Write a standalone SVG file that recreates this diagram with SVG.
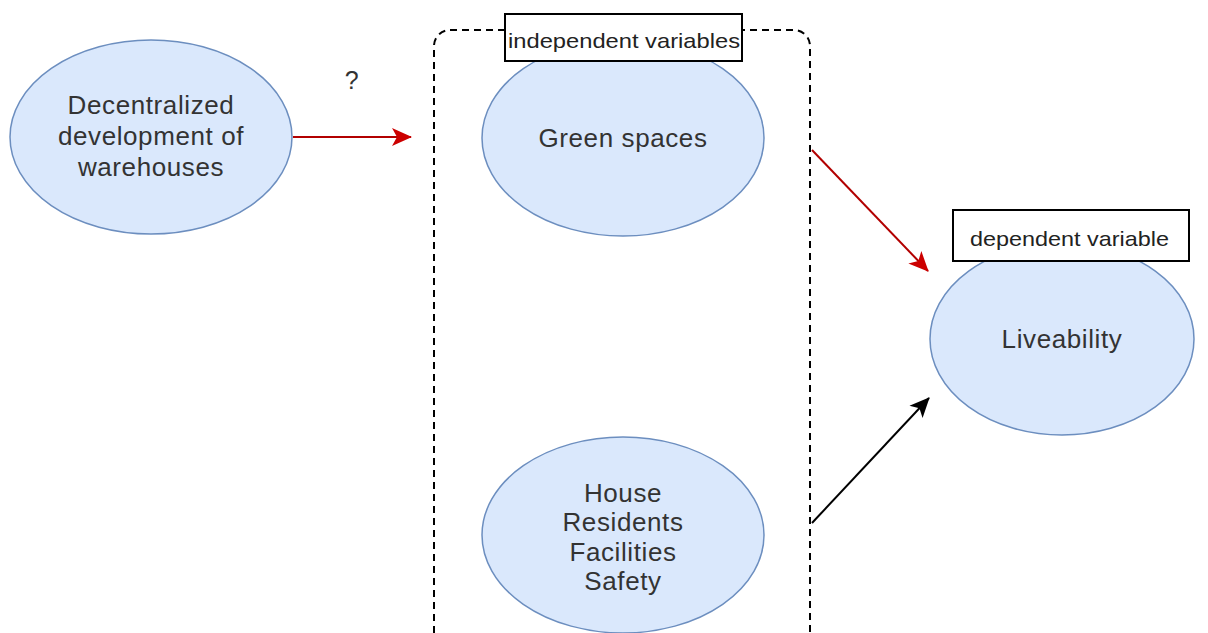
<svg xmlns="http://www.w3.org/2000/svg" width="1208" height="633" viewBox="0 0 1208 633">
<style>
.node ellipse{fill:#dae8fc;stroke:#6c8ebf;stroke-width:1.5}
.t{font-family:"Liberation Sans",Arial,sans-serif;font-size:26px;fill:#333;text-anchor:middle;letter-spacing:0.6px}
.lbl rect{fill:#fff;stroke:#000;stroke-width:2}
.lt{font-family:"Liberation Sans",Arial,sans-serif;font-size:21px;fill:#222}
.red{stroke:#b20000;stroke-width:2;fill:none}
.blk{stroke:#000;stroke-width:2;fill:none}
</style>
<defs>
<marker id="ar" viewBox="0 0 20 20" refX="19" refY="10" markerWidth="20" markerHeight="20" markerUnits="userSpaceOnUse" orient="auto">
<path d="M0,1 L20,10 L0,19 L5,10 Z" fill="#cc0000"/>
</marker>
<marker id="ab" viewBox="0 0 20 20" refX="19" refY="10" markerWidth="20" markerHeight="20" markerUnits="userSpaceOnUse" orient="auto">
<path d="M0,1 L20,10 L0,19 L5,10 Z" fill="#000"/>
</marker>
</defs>
<rect width="1208" height="633" fill="#fff"/>
<g id="group-box">
<rect x="434" y="30" width="376" height="640" rx="16" fill="none" stroke="#000" stroke-width="2" stroke-dasharray="7,5"/>
</g>
<g id="connectors">
<line class="red" x1="293" y1="137" x2="411" y2="137" marker-end="url(#ar)"/>
<line class="red" x1="812" y1="150" x2="928" y2="271" marker-end="url(#ar)"/>
<line class="blk" x1="812" y1="523" x2="929" y2="398" marker-end="url(#ab)"/>
<text x="352" y="89" class="t" style="font-size:25px">?</text>
</g>
<g id="decentralized" class="node">
<ellipse cx="151" cy="137" rx="141" ry="97"/>
<text class="t" x="151" y="114">Decentralized</text>
<text class="t" x="151" y="145">development of</text>
<text class="t" x="151" y="176">warehouses</text>
</g>
<g id="green-spaces" class="node">
<ellipse cx="623" cy="138" rx="141" ry="98"/>
<text class="t" x="623" y="147">Green spaces</text>
</g>
<g id="house" class="node">
<ellipse cx="623" cy="535" rx="141" ry="98"/>
<text class="t" x="623" y="502">House</text>
<text class="t" x="623" y="531">Residents</text>
<text class="t" x="623" y="561">Facilities</text>
<text class="t" x="623" y="590">Safety</text>
</g>
<g id="liveability" class="node">
<ellipse cx="1062" cy="339" rx="132" ry="96"/>
<text class="t" x="1062" y="348">Liveability</text>
</g>
<g id="label-independent" class="lbl">
<rect x="505" y="14" width="237" height="47"/>
<text class="lt" x="508" y="48" textLength="232" lengthAdjust="spacingAndGlyphs">independent variables</text>
</g>
<g id="label-dependent" class="lbl">
<rect x="953" y="210" width="236" height="51"/>
<text class="lt" x="970" y="246" textLength="199" lengthAdjust="spacingAndGlyphs">dependent variable</text>
</g>
</svg>
